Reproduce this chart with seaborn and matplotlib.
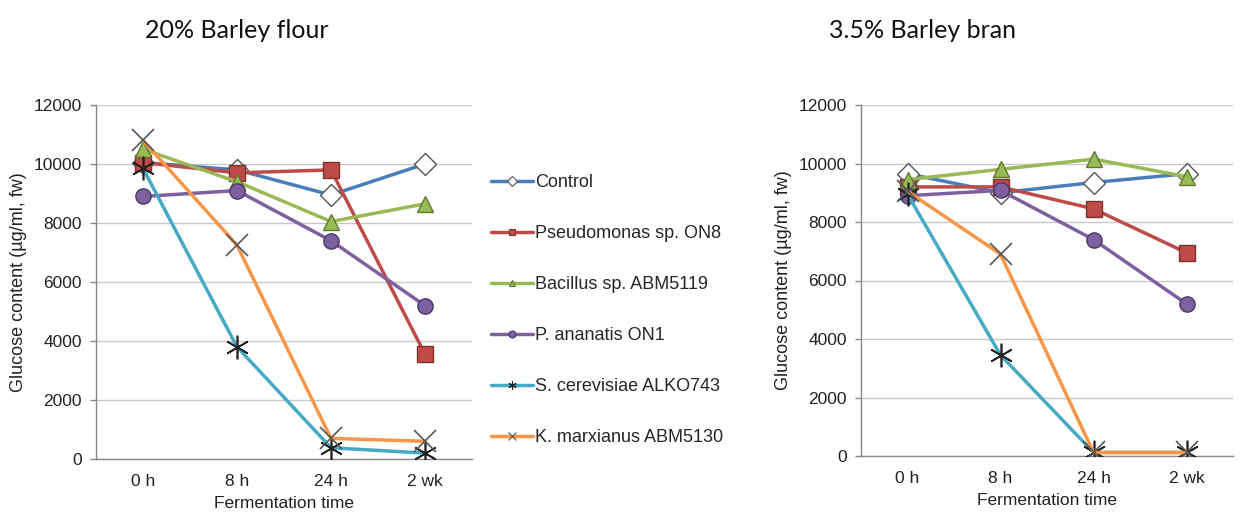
import matplotlib
matplotlib.use("Agg")
import matplotlib.pyplot as plt
from matplotlib.lines import Line2D
import seaborn as sns
import pandas as pd

# ---- data ----
times = ["0 h", "8 h", "24 h", "2 wk"]
series = ["Control", "Pseudomonas sp. ON8", "Bacillus sp. ABM5119",
          "P. ananatis ON1", "S. cerevisiae ALKO743", "K. marxianus ABM5130"]

flour_control = [10050, 9800, 8950, 10000]
flour_pseudomonas = [10050, 9700, 9800, 3550]
flour_bacillus = [10500, 9400, 8050, 8650]
flour_ananatis = [8900, 9100, 7400, 5200]
flour_cerevisiae = [9850, 3800, 380, 200]
flour_marxianus = [10800, 7250, 700, 600]

bran_control = [9650, 9000, 9350, 9650]
bran_pseudomonas = [9200, 9200, 8450, 6950]
bran_bacillus = [9450, 9800, 10150, 9550]
bran_ananatis = [8900, 9080, 7400, 5200]
bran_cerevisiae = [8950, 3450, 120, 120]
bran_marxianus = [9050, 6900, 120, 120]

panel_titles = ["20% Barley flour", "3.5% Barley bran"]
y_ticks = [0, 2000, 4000, 6000, 8000, 10000, 12000]

flour = [flour_control, flour_pseudomonas, flour_bacillus,
         flour_ananatis, flour_cerevisiae, flour_marxianus]
bran = [bran_control, bran_pseudomonas, bran_bacillus,
        bran_ananatis, bran_cerevisiae, bran_marxianus]

# ---- styles ----
line_colors = ["#4A7EBB", "#BE4B48", "#98B954", "#7D60A0", "#46AAC5", "#F79646"]
markers = ["D", "s", "^", "o", (6, 2, 0), "x"]
face_colors = ["white", "#BE4B48", "#98B954", "#7D60A0", "#222222", "#555555"]
edge_colors = ["#555555", "#7a3331", "#5e7a30", "#4a3a66", "#222222", "#555555"]
marker_sizes = [11, 11, 11, 11, 17, 16]
marker_edge_w = [1.0, 1.0, 1.0, 1.0, 1.2, 1.2]

sns.set_theme(style="white")
plt.rcParams["font.family"] = ["Liberation Sans", "DejaVu Sans"]

FS = 12.5

fig = plt.figure(figsize=(12.44, 5.17), dpi=100)
ax1 = fig.add_axes([96 / 1244, 1 - 459 / 517, (472 - 96) / 1244, (459 - 105) / 517])
ax2 = fig.add_axes([861 / 1244, 1 - 456 / 517, (1233 - 861) / 1244, (456 - 105) / 517])

for ax, data in [(ax1, flour), (ax2, bran)]:
    for i, name in enumerate(series):
        df = pd.DataFrame({"time": times, "glucose": data[i]})
        sns.lineplot(data=df, x="time", y="glucose", ax=ax, sort=False,
                     color=line_colors[i], linewidth=2.5,
                     marker=markers[i], markersize=marker_sizes[i],
                     markerfacecolor=face_colors[i], markeredgecolor=edge_colors[i],
                     markeredgewidth=marker_edge_w[i], zorder=3 + i)
    ax.set_xlim(-0.5, 3.5)
    ax.set_ylim(0, 12000)
    ax.set_yticks(y_ticks)
    ax.set_yticklabels([str(t) for t in y_ticks], fontsize=FS, color="#222222")
    ax.set_xticks(range(len(times)))
    ax.set_xticklabels(times, fontsize=FS, color="#222222")
    ax.set_xticks([0.5, 1.5, 2.5, 3.5], minor=True)
    ax.tick_params(axis="x", which="major", length=0, pad=11)
    ax.tick_params(axis="x", which="minor", length=4, direction="inout", color="#888888", width=1)
    ax.tick_params(axis="y", length=4, direction="out", color="#888888", width=1, left=True, pad=6)
    ax.yaxis.grid(True, color="#c8c8c8", linewidth=1.0)
    ax.xaxis.grid(False)
    ax.set_axisbelow(True)
    for s in ["top", "right"]:
        ax.spines[s].set_visible(False)
    for s in ["left", "bottom"]:
        ax.spines[s].set_color("#888888")
        ax.spines[s].set_linewidth(1.0)
    ax.set_xlabel("Fermentation time", fontsize=FS, color="#222222", labelpad=5)
    ax.set_ylabel("Glucose content (µg/ml, fw)", fontsize=13, color="#222222", labelpad=5)
    ax.set_facecolor("white")

fig.text(145 / 1244, 1 - 31 / 517, panel_titles[0], fontsize=18, family=["Lato", "DejaVu Sans"],
         ha="left", va="center", color="#111111")
fig.text(829 / 1244, 1 - 31 / 517, panel_titles[1], fontsize=18, family=["Lato", "DejaVu Sans"],
         ha="left", va="center", color="#111111")

handles = []
for i, name in enumerate(series):
    handles.append(Line2D([0], [0], color=line_colors[i], linewidth=2.5, marker=markers[i],
                          markersize=5 if i < 4 else 6, markerfacecolor=face_colors[i],
                          markeredgecolor=edge_colors[i], markeredgewidth=0.8, label=name))
fig.legend(handles=handles, loc="upper left", bbox_to_anchor=(484 / 1244, 1 - 167 / 517),
           frameon=False, fontsize=13, handlelength=2.3, handletextpad=0.15,
           labelspacing=1.88, borderaxespad=0)

fig.savefig("out.png", dpi=100, facecolor="white")
